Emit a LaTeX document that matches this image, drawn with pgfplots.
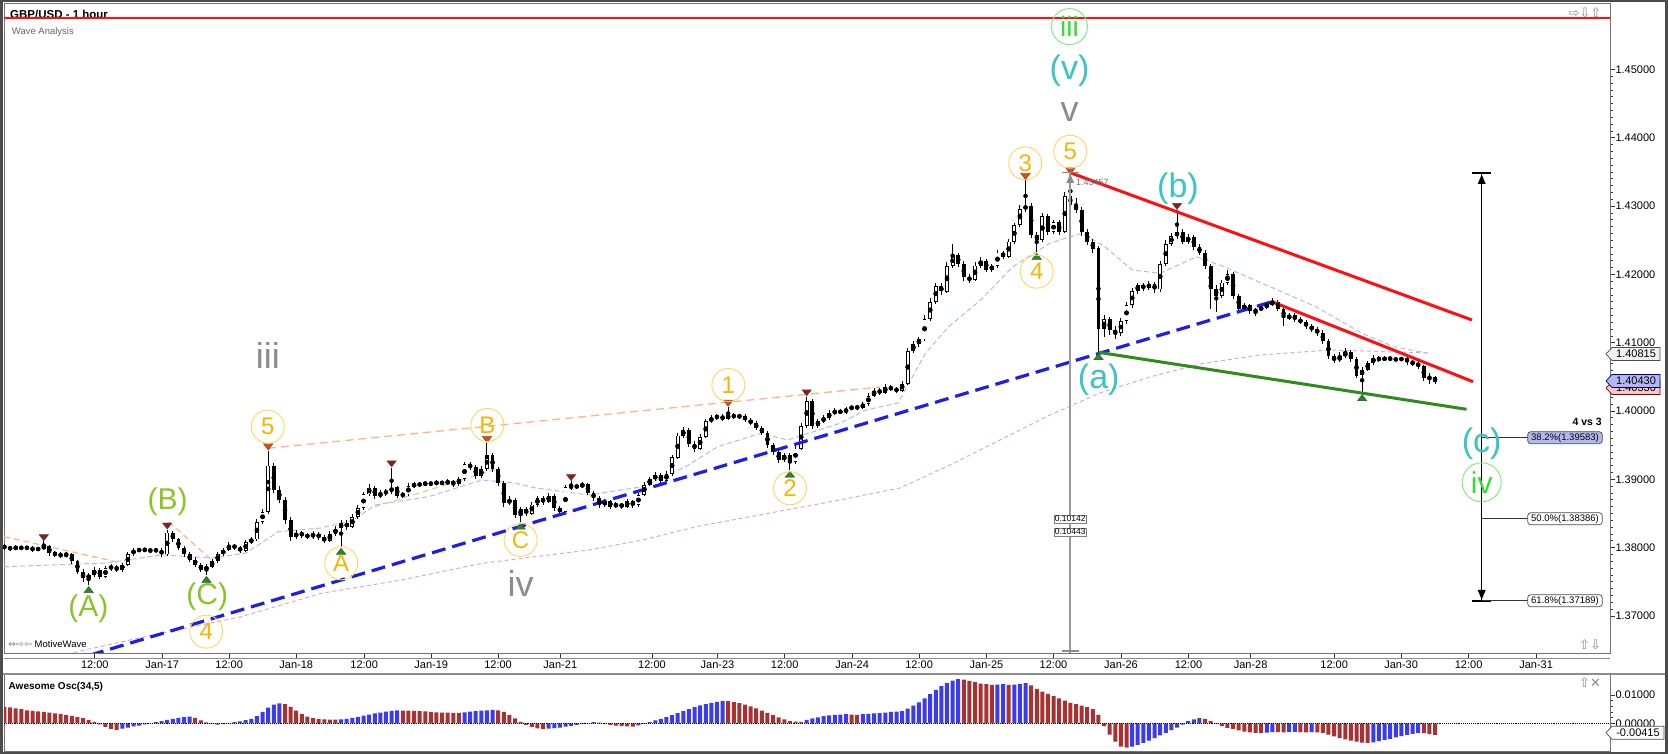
\documentclass[border=0pt]{standalone}
\usepackage{fontspec}
\setmainfont{Liberation Sans}
\newfontfamily\dv{DejaVu Sans}
\usepackage{pgfplots}
\usepackage{pgfplotstable}
\pgfplotsset{compat=1.18}
\definecolor{wred}{HTML}{8B1C1C}
\definecolor{wora}{HTML}{D0501E}
\definecolor{wgreen}{HTML}{1E8C1E}
\definecolor{worange}{HTML}{F8B500}
\definecolor{wcirc}{HTML}{FFD75E}
\definecolor{wyg}{HTML}{8CC428}
\definecolor{wgray}{HTML}{8C8C8C}
\definecolor{wteal}{HTML}{3CC3C8}
\definecolor{wgreenT}{HTML}{33DD33}
\definecolor{wgreenC}{HTML}{77EE77}
\definecolor{lred}{HTML}{FF1010}
\definecolor{lgreen}{HTML}{2E8B1E}
\definecolor{lblue}{HTML}{1E1EE6}
\definecolor{lorange}{HTML}{FFB38A}
\definecolor{lkhaki}{HTML}{D6D0A0}
\definecolor{maBlue}{HTML}{A8BFF5}
\definecolor{maPurple}{HTML}{D8A8DC}
\definecolor{oscred}{HTML}{A83232}
\definecolor{oscblue}{HTML}{3A3AF0}
\definecolor{tagblue}{HTML}{B3B8F0}
\definecolor{tagpink}{HTML}{F6C9C9}

\pgfplotstableread{
o h l c
1.3802 1.3805 1.3797 1.3800
1.3800 1.3803 1.3795 1.3798
1.3798 1.3804 1.3796 1.3801
1.3801 1.3803 1.3796 1.3799
1.3799 1.3803 1.3797 1.3800
1.3800 1.3802 1.3794 1.3797
1.3797 1.3801 1.3795 1.3799
1.3799 1.3809 1.3797 1.3802
1.3802 1.3804 1.3788 1.3792
1.3792 1.3795 1.3787 1.3790
1.3790 1.3793 1.3785 1.3788
1.3788 1.3794 1.3786 1.3790
1.3790 1.3792 1.3776 1.3780
1.3780 1.3782 1.3762 1.3765
1.3765 1.3768 1.3750 1.3755
1.3755 1.3763 1.3745 1.3760
1.3760 1.3771 1.3757 1.3768
1.3768 1.3770 1.3754 1.3757
1.3757 1.3773 1.3755 1.3770
1.3770 1.3776 1.3766 1.3772
1.3772 1.3774 1.3764 1.3768
1.3768 1.3778 1.3765 1.3775
1.3775 1.3793 1.3773 1.3790
1.3790 1.3800 1.3788 1.3797
1.3797 1.3800 1.3793 1.3796
1.3796 1.3800 1.3794 1.3797
1.3797 1.3799 1.3792 1.3795
1.3795 1.3799 1.3793 1.3797
1.3797 1.3799 1.3787 1.3790
1.3790 1.3826 1.3788 1.3822
1.3822 1.3824 1.3808 1.3812
1.3812 1.3814 1.3797 1.3800
1.3800 1.3803 1.3787 1.3790
1.3790 1.3793 1.3779 1.3782
1.3782 1.3786 1.3772 1.3775
1.3775 1.3778 1.3764 1.3768
1.3768 1.3776 1.3760 1.3772
1.3772 1.3783 1.3770 1.3780
1.3780 1.3793 1.3778 1.3790
1.3790 1.3800 1.3787 1.3797
1.3797 1.3808 1.3795 1.3803
1.3803 1.3806 1.3797 1.3800
1.3800 1.3803 1.3792 1.3795
1.3795 1.3811 1.3793 1.3808
1.3808 1.3816 1.3805 1.3812
1.3812 1.3842 1.3810 1.3838
1.3838 1.3856 1.3835 1.3852
1.3852 1.3942 1.3850 1.3920
1.3920 1.3924 1.3880 1.3885
1.3885 1.3890 1.3865 1.3870
1.3870 1.3874 1.3835 1.3840
1.3840 1.3845 1.3810 1.3815
1.3815 1.3826 1.3812 1.3822
1.3822 1.3825 1.3814 1.3818
1.3818 1.3822 1.3812 1.3816
1.3816 1.3824 1.3813 1.3820
1.3820 1.3823 1.3811 1.3815
1.3815 1.3818 1.3806 1.3810
1.3810 1.3824 1.3808 1.3820
1.3820 1.3832 1.3817 1.3828
1.3828 1.3840 1.3801 1.3836
1.3836 1.3840 1.3826 1.3830
1.3830 1.3849 1.3828 1.3845
1.3845 1.3862 1.3842 1.3858
1.3858 1.3882 1.3855 1.3878
1.3878 1.3893 1.3875 1.3888
1.3888 1.3891 1.3871 1.3875
1.3875 1.3885 1.3872 1.3880
1.3880 1.3886 1.3876 1.3882
1.3882 1.3917 1.3879 1.3888
1.3888 1.3891 1.3872 1.3876
1.3876 1.3882 1.3873 1.3878
1.3878 1.3894 1.3876 1.3890
1.3890 1.3896 1.3887 1.3893
1.3893 1.3896 1.3889 1.3892
1.3892 1.3898 1.3890 1.3895
1.3895 1.3897 1.3890 1.3893
1.3893 1.3899 1.3891 1.3896
1.3896 1.3898 1.3891 1.3894
1.3894 1.3900 1.3892 1.3897
1.3897 1.3899 1.3889 1.3893
1.3893 1.3904 1.3891 1.3900
1.3900 1.3926 1.3898 1.3922
1.3922 1.3925 1.3914 1.3918
1.3918 1.3921 1.3901 1.3905
1.3905 1.3919 1.3902 1.3915
1.3915 1.3953 1.3912 1.3935
1.3935 1.3938 1.3911 1.3915
1.3915 1.3918 1.3891 1.3895
1.3895 1.3898 1.3860 1.3865
1.3865 1.3875 1.3862 1.3870
1.3870 1.3872 1.3844 1.3848
1.3848 1.3860 1.3838 1.3856
1.3856 1.3859 1.3846 1.3850
1.3850 1.3867 1.3848 1.3863
1.3863 1.3876 1.3860 1.3872
1.3872 1.3875 1.3863 1.3867
1.3867 1.3880 1.3865 1.3876
1.3876 1.3878 1.3854 1.3858
1.3858 1.3861 1.3849 1.3852
1.3852 1.3892 1.3850 1.3888
1.3888 1.3897 1.3885 1.3890
1.3890 1.3893 1.3886 1.3889
1.3889 1.3896 1.3887 1.3893
1.3893 1.3895 1.3877 1.3880
1.3880 1.3883 1.3869 1.3872
1.3872 1.3875 1.3858 1.3862
1.3862 1.3871 1.3860 1.3868
1.3868 1.3870 1.3857 1.3860
1.3860 1.3867 1.3858 1.3864
1.3864 1.3866 1.3857 1.3860
1.3860 1.3871 1.3858 1.3868
1.3868 1.3870 1.3858 1.3862
1.3862 1.3880 1.3860 1.3877
1.3877 1.3896 1.3875 1.3892
1.3892 1.3904 1.3890 1.3900
1.3900 1.3910 1.3897 1.3906
1.3906 1.3909 1.3895 1.3898
1.3898 1.3912 1.3896 1.3908
1.3908 1.3936 1.3905 1.3932
1.3932 1.3968 1.3930 1.3964
1.3964 1.3977 1.3960 1.3972
1.3972 1.3975 1.3948 1.3952
1.3952 1.3956 1.3940 1.3945
1.3945 1.3966 1.3943 1.3962
1.3962 1.3989 1.3960 1.3985
1.3985 1.3994 1.3982 1.3990
1.3990 1.3996 1.3987 1.3992
1.3992 1.3995 1.3985 1.3989
1.3989 1.4006 1.3987 1.3994
1.3994 1.3997 1.3988 1.3991
1.3991 1.3996 1.3989 1.3993
1.3993 1.3995 1.3984 1.3987
1.3987 1.3990 1.3979 1.3982
1.3982 1.3985 1.3972 1.3975
1.3975 1.3978 1.3965 1.3968
1.3968 1.3970 1.3946 1.3950
1.3950 1.3953 1.3936 1.3940
1.3940 1.3943 1.3924 1.3928
1.3928 1.3939 1.3926 1.3935
1.3935 1.3938 1.3914 1.3925
1.3925 1.3949 1.3922 1.3945
1.3945 1.3982 1.3943 1.3978
1.3978 1.4021 1.3975 1.4015
1.4015 1.4018 1.3974 1.3978
1.3978 1.3989 1.3975 1.3985
1.3985 1.3994 1.3982 1.3990
1.3990 1.4001 1.3987 1.3997
1.3997 1.4004 1.3994 1.4000
1.4000 1.4003 1.3995 1.3998
1.3998 1.4006 1.3996 1.4003
1.4003 1.4009 1.4001 1.4006
1.4006 1.4008 1.4002 1.4005
1.4005 1.4013 1.4003 1.4010
1.4010 1.4026 1.4008 1.4022
1.4022 1.4034 1.4020 1.4030
1.4030 1.4033 1.4024 1.4027
1.4027 1.4039 1.4025 1.4035
1.4035 1.4038 1.4029 1.4032
1.4032 1.4035 1.4027 1.4030
1.4030 1.4044 1.4028 1.4040
1.4040 1.4092 1.4038 1.4088
1.4088 1.4102 1.4085 1.4098
1.4098 1.4109 1.4094 1.4105
1.4105 1.4140 1.4102 1.4135
1.4135 1.4165 1.4132 1.4160
1.4160 1.4188 1.4157 1.4183
1.4183 1.4187 1.4170 1.4175
1.4175 1.4218 1.4173 1.4212
1.4212 1.4245 1.4210 1.4228
1.4228 1.4232 1.4211 1.4215
1.4215 1.4219 1.4190 1.4196
1.4196 1.4200 1.4187 1.4192
1.4192 1.4218 1.4190 1.4213
1.4213 1.4225 1.4210 1.4220
1.4220 1.4223 1.4203 1.4207
1.4207 1.4216 1.4204 1.4212
1.4212 1.4236 1.4210 1.4232
1.4232 1.4235 1.4222 1.4226
1.4226 1.4252 1.4224 1.4248
1.4248 1.4276 1.4245 1.4272
1.4272 1.4302 1.4270 1.4296
1.4296 1.4338 1.4292 1.4300
1.4300 1.4304 1.4254 1.4258
1.4258 1.4262 1.4233 1.4250
1.4250 1.4290 1.4247 1.4285
1.4285 1.4288 1.4258 1.4262
1.4262 1.4280 1.4259 1.4276
1.4276 1.4279 1.4258 1.4262
1.4262 1.4320 1.4260 1.4315
1.4315 1.4346 1.4298 1.4302
1.4302 1.4312 1.4290 1.4295
1.4295 1.4299 1.4256 1.4262
1.4262 1.4266 1.4243 1.4248
1.4248 1.4252 1.4232 1.4238
1.4238 1.4242 1.4086 1.4120
1.4120 1.4140 1.4108 1.4135
1.4135 1.4138 1.4112 1.4118
1.4118 1.4124 1.4105 1.4114
1.4114 1.4136 1.4110 1.4132
1.4132 1.4160 1.4128 1.4155
1.4155 1.4180 1.4151 1.4176
1.4176 1.4188 1.4172 1.4184
1.4184 1.4188 1.4176 1.4180
1.4180 1.4190 1.4177 1.4186
1.4186 1.4189 1.4173 1.4178
1.4178 1.4220 1.4175 1.4215
1.4215 1.4250 1.4212 1.4245
1.4245 1.4260 1.4241 1.4256
1.4256 1.4294 1.4252 1.4262
1.4262 1.4266 1.4244 1.4248
1.4248 1.4259 1.4245 1.4255
1.4255 1.4258 1.4236 1.4240
1.4240 1.4244 1.4228 1.4232
1.4232 1.4236 1.4208 1.4212
1.4212 1.4216 1.4150 1.4178
1.4178 1.4185 1.4145 1.4168
1.4168 1.4192 1.4165 1.4188
1.4188 1.4206 1.4185 1.4200
1.4200 1.4204 1.4164 1.4168
1.4168 1.4172 1.4146 1.4150
1.4150 1.4158 1.4147 1.4155
1.4155 1.4157 1.4142 1.4146
1.4146 1.4151 1.4139 1.4148
1.4148 1.4155 1.4146 1.4152
1.4152 1.4159 1.4150 1.4156
1.4156 1.4165 1.4153 1.4160
1.4160 1.4163 1.4146 1.4150
1.4150 1.4153 1.4125 1.4136
1.4136 1.4143 1.4133 1.4140
1.4140 1.4143 1.4130 1.4134
1.4134 1.4137 1.4127 1.4130
1.4130 1.4133 1.4120 1.4124
1.4124 1.4127 1.4115 1.4120
1.4120 1.4123 1.4110 1.4115
1.4115 1.4118 1.4098 1.4102
1.4102 1.4105 1.4076 1.4080
1.4080 1.4083 1.4070 1.4074
1.4074 1.4086 1.4072 1.4080
1.4080 1.4092 1.4078 1.4086
1.4086 1.4089 1.4072 1.4076
1.4076 1.4079 1.4048 1.4052
1.4052 1.4064 1.4026 1.4060
1.4060 1.4074 1.4058 1.4070
1.4070 1.4082 1.4068 1.4078
1.4078 1.4080 1.4072 1.4075
1.4075 1.4080 1.4073 1.4078
1.4078 1.4079 1.4074 1.4076
1.4076 1.4078 1.4073 1.4075
1.4075 1.4079 1.4073 1.4077
1.4077 1.4080 1.4068 1.4072
1.4072 1.4074 1.4066 1.4070
1.4070 1.4073 1.4062 1.4066
1.4066 1.4068 1.4044 1.4048
1.4048 1.4056 1.4040 1.4050
1.4050 1.4052 1.4040 1.4043
}\candles

\pgfplotstableread{
v u
0.0057 0
0.0056 0
0.0053 0
0.0050 0
0.0046 0
0.0044 0
0.0042 0
0.0040 0
0.0038 0
0.0035 0
0.0033 0
0.0030 0
0.0026 0
0.0022 0
0.0018 0
0.0012 0
0.0005 0
-0.0004 0
-0.0013 0
-0.0020 0
-0.0023 0
-0.0019 1
-0.0015 1
-0.0011 1
-0.0008 1
-0.0004 1
0.0000 1
0.0004 1
0.0008 1
0.0012 1
0.0016 1
0.0019 1
0.0022 1
0.0024 1
0.0019 0
0.0010 0
0.0003 0
-0.0002 0
-0.0005 0
-0.0003 1
0.0001 1
0.0004 1
0.0007 1
0.0011 1
0.0016 1
0.0025 1
0.0040 1
0.0055 1
0.0066 1
0.0070 1
0.0068 0
0.0058 0
0.0045 0
0.0033 0
0.0024 0
0.0018 0
0.0015 0
0.0014 0
0.0013 0
0.0013 0
0.0014 1
0.0016 1
0.0019 1
0.0023 1
0.0027 1
0.0031 1
0.0035 1
0.0038 1
0.0041 1
0.0044 1
0.0046 1
0.0045 0
0.0045 0
0.0044 0
0.0043 0
0.0042 0
0.0040 0
0.0039 0
0.0038 0
0.0038 0
0.0037 0
0.0037 0
0.0039 1
0.0041 1
0.0043 1
0.0045 1
0.0046 1
0.0047 1
0.0046 0
0.0040 0
0.0030 0
0.0017 0
0.0005 0
-0.0006 0
-0.0013 0
-0.0018 0
-0.0021 0
-0.0019 1
-0.0017 1
-0.0015 1
-0.0012 1
-0.0009 1
-0.0006 1
-0.0003 1
0.0001 1
0.0004 1
0.0002 0
-0.0003 0
-0.0006 0
-0.0008 0
-0.0010 0
-0.0011 0
-0.0012 0
-0.0007 1
-0.0002 1
0.0004 1
0.0010 1
0.0016 1
0.0022 1
0.0029 1
0.0036 1
0.0043 1
0.0050 1
0.0057 1
0.0063 1
0.0068 1
0.0072 1
0.0076 1
0.0079 1
0.0078 0
0.0075 0
0.0071 0
0.0066 0
0.0060 0
0.0053 0
0.0045 0
0.0037 0
0.0029 0
0.0021 0
0.0014 0
0.0008 0
0.0006 0
0.0005 0
0.0012 1
0.0017 1
0.0021 1
0.0025 1
0.0028 1
0.0030 1
0.0031 1
0.0032 1
0.0031 0
0.0030 0
0.0032 1
0.0033 1
0.0035 1
0.0036 1
0.0038 1
0.0040 1
0.0041 1
0.0043 1
0.0052 1
0.0062 1
0.0074 1
0.0088 1
0.0103 1
0.0118 1
0.0131 1
0.0142 1
0.0151 1
0.0156 1
0.0154 0
0.0150 0
0.0146 0
0.0140 0
0.0138 0
0.0136 0
0.0137 1
0.0138 1
0.0136 0
0.0137 1
0.0139 1
0.0142 1
0.0134 0
0.0122 0
0.0112 0
0.0104 0
0.0096 0
0.0088 0
0.0080 0
0.0072 0
0.0068 0
0.0062 0
0.0057 0
0.0050 0
0.0030 0
-0.0010 0
-0.0040 0
-0.0065 0
-0.0082 0
-0.0086 0
-0.0082 1
-0.0076 1
-0.0069 1
-0.0061 1
-0.0052 1
-0.0043 1
-0.0034 1
-0.0024 1
-0.0015 1
-0.0005 1
0.0008 1
0.0014 1
0.0018 1
0.0016 0
0.0008 0
-0.0002 0
-0.0010 0
-0.0016 0
-0.0020 0
-0.0025 0
-0.0029 0
-0.0032 0
-0.0034 0
-0.0035 0
-0.0033 1
-0.0031 1
-0.0031 0
-0.0032 0
-0.0031 1
-0.0030 1
-0.0031 0
-0.0032 0
-0.0031 1
-0.0032 0
-0.0034 0
-0.0040 0
-0.0046 0
-0.0052 0
-0.0057 0
-0.0061 0
-0.0065 0
-0.0068 0
-0.0069 0
-0.0067 1
-0.0063 1
-0.0059 1
-0.0055 1
-0.0050 1
-0.0045 1
-0.0041 1
-0.0037 1
-0.0034 1
-0.0035 0
-0.0038 0
-0.0041 0
}\osc

\newcommand\ptag[4]{%
  \draw[fill=#2, draw=#3, line width=0.7pt] (1606,#1) -- (1612,#1+6.5) -- (1660,#1+6.5) -- (1660,#1-6.5) -- (1612,#1-6.5) -- cycle;
  \node[font=\fontsize{11}{12}\selectfont, inner sep=0] at (1636,#1) {#4};}
\newcommand\fibbox[3]{%
  \draw[black!80, line width=0.8pt] (1481.7,#1) -- (1527.7,#1);
  \node[draw=black!70, fill=#2, rounded corners=3pt, line width=0.7pt, minimum width=74.6pt, minimum height=12pt, inner sep=0, font=\fontsize{9.5}{10}\selectfont] at (1565,#1) {#3};}

\begin{document}
\begin{tikzpicture}[x=1pt,y=1pt]
\useasboundingbox (0,0) rectangle (1668,754);
\fill[white] (0,0) rectangle (1668,754);
% header
\node[anchor=base west, inner sep=0, font=\bfseries\fontsize{11.5}{12}\selectfont] at (10,735.7) {GBP/USD - 1 hour};
\node[anchor=base west, inner sep=0, text=black!60, font=\fontsize{9.5}{10}\selectfont] at (11.7,719.7) {Wave Analysis};

\begin{axis}[
  at={(4pt,101pt)}, anchor=south west, scale only axis,
  width=1606pt, height=650pt,
  xmin=4, xmax=1610, ymin=1.364568, ymax=1.459736,
  axis line style={draw=black!55, line width=0.8pt},
  xtick={94.8,162.3,229.2,296.2,364.2,431.2,498.1,560.3,652,717.5,784.7,852.1,919.1,986.5,1053.5,1121.0,1188.5,1250.6,1334.2,1401.1,1468.6,1536.1},
  xticklabels={12:00,Jan-17,12:00,Jan-18,12:00,Jan-19,12:00,Jan-21,12:00,Jan-23,12:00,Jan-24,12:00,Jan-25,12:00,Jan-26,12:00,Jan-28,12:00,Jan-30,12:00,Jan-31},
  xtick pos=bottom,
  ytick={1.37,1.38,1.39,1.40,1.41,1.42,1.43,1.44,1.45},
  yticklabels={1.37000,1.38000,1.39000,1.40000,1.41000,1.42000,1.43000,1.44000,1.45000},
  scaled y ticks=false, scaled x ticks=false,
  ytick pos=right, yticklabel pos=right, minor y tick num=9,
  tick align=outside, major tick length=5pt, minor tick length=3pt,
  tick style={black!80, line width=0.7pt},
  ticklabel style={font=\fontsize{11}{12}\selectfont},
  yticklabel style={anchor=west, xshift=-3pt},
  xticklabel style={yshift=1pt},
  unbounded coords=discard,
]
% moving averages
\addplot[maPurple, line width=1pt, dash pattern=on 4pt off 3pt] coordinates {
(60,1.36420) (160.7,1.36745) (241,1.36988) (321.4,1.37331) (401.7,1.37526) (482,1.37770) (535.6,1.37867) (589,1.37965) (642.7,1.38111) (696.3,1.38306) (749.9,1.38452) (840,1.38697) (900,1.38873) (950,1.39209) (1000,1.39575) (1050,1.39941) (1100,1.40264) (1150,1.40498) (1200,1.40688) (1260,1.40820) (1330,1.40893) (1430,1.40849)};
\addplot[maBlue, line width=1pt, dash pattern=on 5pt off 3pt] coordinates {
(4,1.37720) (107,1.37775) (160.7,1.37892) (214,1.37848) (246,1.37921) (278.5,1.38233) (321,1.38287) (353.5,1.38404) (375,1.38624) (428.5,1.38745) (482,1.38990) (514,1.38946) (535.6,1.38873) (589,1.38770) (642.7,1.38892) (685.6,1.39184) (717.7,1.39477) (760.6,1.39673) (787.4,1.39575) (840,1.39820) (866,1.40015) (898,1.40117) (925.6,1.40849) (948.6,1.41234) (980.7,1.41625) (1012.8,1.42113) (1049.6,1.42455) (1081.7,1.42602) (1104.7,1.42406) (1132.2,1.42064) (1159.8,1.42016) (1196.5,1.42259) (1224,1.42113) (1270,1.41820) (1315.9,1.41527) (1361.8,1.41138) (1393.9,1.40941) (1428.3,1.40845)};
% dashed helper lines
\addplot[lorange, line width=1.3pt, dash pattern=on 8pt off 5pt] coordinates {(267.8,1.39454) (880,1.40351)};
\addplot[lorange, line width=1.2pt, dash pattern=on 6pt off 4pt] coordinates {(4,1.38160) (123,1.37770)};
\addplot[lorange, line width=1.2pt, dash pattern=on 6pt off 4pt] coordinates {(168.7,1.38379) (211.6,1.37818)};
\addplot[lkhaki, line width=1.2pt, dash pattern=on 6pt off 4pt] coordinates {(375,1.38599) (500,1.39165)};
% candles: wicks
\addplot[only marks, mark=none, error bars/.cd, y dir=both, y explicit, error mark=none,
  error bar style={black, line width=1pt}]
  table[x expr={4.5+5.61*\coordindex}, y expr={(\thisrow{h}+\thisrow{l})/2}, y error expr={(\thisrow{h}-\thisrow{l})/2}] {\candles};
% down bodies
\addplot[only marks, mark=none, error bars/.cd, y dir=both, y explicit, error mark=none,
  error bar style={black, line width=3.8pt}]
  table[x expr={4.5+5.61*\coordindex}, y expr={\thisrow{c}<\thisrow{o} ? (\thisrow{o}+\thisrow{c})/2 : nan}, y error expr={max(abs(\thisrow{o}-\thisrow{c})/2,0.00008)}] {\candles};
% up bodies outline
\addplot[only marks, mark=none, error bars/.cd, y dir=both, y explicit, error mark=none,
  error bar style={black, line width=3.8pt}]
  table[x expr={4.5+5.61*\coordindex}, y expr={\thisrow{c}<\thisrow{o} ? nan : (\thisrow{o}+\thisrow{c})/2}, y error expr={max(abs(\thisrow{o}-\thisrow{c})/2,0.00008)}] {\candles};
% up bodies white
\addplot[only marks, mark=none, error bars/.cd, y dir=both, y explicit, error mark=none,
  error bar style={white, line width=2.2pt}]
  table[x expr={4.5+5.61*\coordindex}, y expr={\thisrow{c}>\thisrow{o}+0.00026 ? (\thisrow{o}+\thisrow{c})/2 : nan}, y error expr={abs(\thisrow{o}-\thisrow{c})/2-0.00012}] {\candles};
% trend lines
\addplot[lred, line width=2.2pt] coordinates {(4,1.457584) (1610,1.457584)};
\addplot[lblue, line width=3.2pt, dash pattern=on 14pt off 7pt] coordinates {(90,1.36426) (1272,1.41600)};
\addplot[lred, line width=3pt] coordinates {(1070.2,1.43489) (1472,1.41332)};
\addplot[lred, line width=3pt] coordinates {(1272,1.41600) (1473,1.40429)};
\addplot[lgreen, line width=3pt] coordinates {(1098.7,1.40859) (1466.5,1.40025)};
% pivot markers
\addplot[only marks, mark=triangle*, mark size=5.5pt, mark options={rotate=180, yscale=0.75, fill=wred, draw=black!70, line width=0.4pt}]
  coordinates {(43.8,1.3816) (167.2,1.3833) (391.6,1.3924) (571.1,1.3904) (806.7,1.4028) (1177.0,1.4301)};
\addplot[only marks, mark=triangle*, mark size=5.5pt, mark options={rotate=180, yscale=0.75, fill=wora, draw=wred, line width=0.4pt}]
  coordinates {(268.2,1.3949) (487.0,1.3960) (728.2,1.4013) (1025.5,1.4345) (1070.4,1.4353)};
\addplot[only marks, mark=triangle*, mark size=5.5pt, mark options={yscale=0.75, fill=wgreen, draw=black!70, line width=0.4pt}]
  coordinates {(88.7,1.3737) (206.5,1.3752) (341.1,1.3793) (520.6,1.3830) (789.9,1.3906) (1036.7,1.4225) (1098.5,1.4078) (1362.1,1.4018)};
\end{axis}

% oscillator
\begin{axis}[
  at={(4pt,3pt)}, anchor=south west, scale only axis,
  width=1606pt, height=77pt,
  xmin=4, xmax=1610, ymin=-0.009788, ymax=0.017420,
  axis line style={draw=black!55, line width=0.8pt},
  xtick=\empty,
  ytick={0,0.01}, yticklabels={0.00000,0.01000},
  scaled y ticks=false,
  ytick pos=right, yticklabel pos=right, minor y tick num=4,
  tick align=outside, major tick length=5pt, minor tick length=3pt,
  tick style={black!80, line width=0.7pt},
  ticklabel style={font=\fontsize{11}{12}\selectfont},
  yticklabel style={anchor=west, xshift=-3pt},
  unbounded coords=discard,
]
\addplot[ybar, bar width=4pt, bar shift=0pt, fill=oscred, draw=none]
  table[x expr={4.5+5.61*\coordindex}, y expr={\thisrow{u}==0 ? \thisrow{v} : nan}] {\osc};
\addplot[ybar, bar width=4pt, bar shift=0pt, fill=oscblue, draw=none]
  table[x expr={4.5+5.61*\coordindex}, y expr={\thisrow{u}==1 ? \thisrow{v} : nan}] {\osc};
\draw[black, line width=0.9pt, densely dotted] (axis cs:4,0) -- (axis cs:1610,0);
\end{axis}

% frames
\draw[black!45, line width=0.8pt] (4,96) -- (1610,96);
\draw[black!45, line width=2.5pt] (0,80) -- (1668,80);
\draw[black!70, line width=3pt] (1.5,0) -- (1.5,754);
\draw[black!70, line width=2pt] (0,753) -- (1668,753);
\draw[black!70, line width=3pt] (1666.5,0) -- (1666.5,754);
\draw[black!70, line width=2.5pt] (0,1.2) -- (1668,1.2);

% labels on the oscillator
\node[anchor=west, inner sep=0, font=\bfseries\fontsize{10}{11}\selectfont] at (8.5,66.7) {Awesome Osc(34,5)};
\node[text=black!45, font=\dv\fontsize{13}{13}\selectfont] at (1590,71) {⇧✕};
\draw[fill=white, draw=black!70, line width=0.7pt] (1606,21.3) -- (1612,27.8) -- (1664,27.8) -- (1664,14.8) -- (1612,14.8) -- cycle;
\node[font=\fontsize{11}{12}\selectfont, inner sep=0] at (1638,21.3) {-0.00415};

% icons and footer text of main panel
\node[text=black!45, font=\dv\fontsize{13}{13}\selectfont] at (1585,741.5) {⇨⇩⇧};
\node[text=black!45, font=\dv\fontsize{13}{13}\selectfont] at (1590,109) {⇧⇩};
\node[anchor=west, inner sep=0, font=\fontsize{9.5}{10}\selectfont] at (8,110) {{\dv\color{black!50}⇔⇨⇦} MotiveWave};

% price tags
\ptag{400}{black!6}{black!70}{1.40815}
\ptag{366}{tagpink}{red!50!black}{1.40330}
\ptag{373}{tagblue}{blue!50!black}{1.40430}

% vertical measure line at wave 5
\draw[black!40, line width=1.5pt] (1070.2,581.3) -- (1070.2,101);
\draw[black!45, line width=1.5pt] (1062,581.3) -- (1079,581.3);
\fill[black!45] (1066.2,571) -- (1074.2,571) -- (1070.2,580) -- cycle;
\draw[black!45, line width=1.5pt] (1062,103) -- (1079,103);
\node[anchor=west, inner sep=0, text=black!55, font=\fontsize{9}{10}\selectfont] at (1076,572) {1.43457};
\node[draw=black!50, fill=white, inner sep=1pt, font=\fontsize{8.5}{9}\selectfont] at (1070.2,235) {0.10142};
\node[draw=black!50, fill=white, inner sep=1pt, font=\fontsize{8.5}{9}\selectfont] at (1070.2,222) {0.10443};

% fibonacci tool
\draw[black, line width=1pt] (1481.7,580.7) -- (1481.7,153.3);
\draw[black, line width=2pt] (1472,580.7) -- (1491,580.7);
\draw[black, line width=2pt] (1472,153.3) -- (1491,153.3);
\fill[black] (1477.7,570) -- (1485.7,570) -- (1481.7,579.5) -- cycle;
\fill[black] (1477.7,164) -- (1485.7,164) -- (1481.7,154.5) -- cycle;
\fibbox{316.3}{tagblue}{38.2\%(1.39583)}
\fibbox{235.3}{white}{50.0\%(1.38386)}
\fibbox{153.3}{white}{61.8\%(1.37189)}
\node[anchor=east, inner sep=0, font=\bfseries\fontsize{10.5}{11}\selectfont] at (1602,331.7) {4 vs 3};

% wave labels
\tikzset{oc/.style={circle, draw=wcirc, line width=0.9pt, minimum size=33pt, inner sep=0, text=worange, font=\fontsize{24}{24}\selectfont},
  gc/.style={circle, draw=wgreenC, line width=0.9pt, inner sep=0, text=wgreenT},
  yg/.style={text=wyg, inner sep=0, font=\fontsize{30}{30}\selectfont},
  gr/.style={text=wgray, inner sep=0, font=\fontsize{36}{36}\selectfont},
  tl/.style={text=wteal, inner sep=0, font=\fontsize{34}{34}\selectfont}}
\node[yg] at (88.4,145.7) {(A)};
\node[yg] at (167.7,252.3) {(B)};
\node[yg] at (207.3,157.3) {(C)};
\node[oc] at (206.2,122.3) {4};
\node[oc] at (267.8,327.3) {5};
\node[gr] at (267.8,399) {iii};
\node[oc] at (341.2,190.7) {A};
\node[oc] at (487.4,329) {B};
\node[oc] at (520.6,214) {C};
\node[gr] at (520.6,170.7) {iv};
\node[oc] at (728.4,369) {1};
\node[oc] at (790,265.7) {2};
\node[oc] at (1025.2,590.7) {3};
\node[oc] at (1036.7,482.3) {4};
\node[oc] at (1070.2,602.3) {5};
\node[gr] at (1069.5,642) {v};
\node[tl] at (1069.5,683) {(v)};
\node[gc, minimum size=36pt, font=\fontsize{28}{28}\selectfont] at (1069.5,727.4) {iii};
\node[tl] at (1178,565.7) {(b)};
\node[tl] at (1098.7,374) {(a)};
\node[tl] at (1481.7,310) {(c)};
\node[gc, minimum size=39pt, font=\fontsize{30}{30}\selectfont] at (1481.7,271.7) {iv};
\end{tikzpicture}
\end{document}
